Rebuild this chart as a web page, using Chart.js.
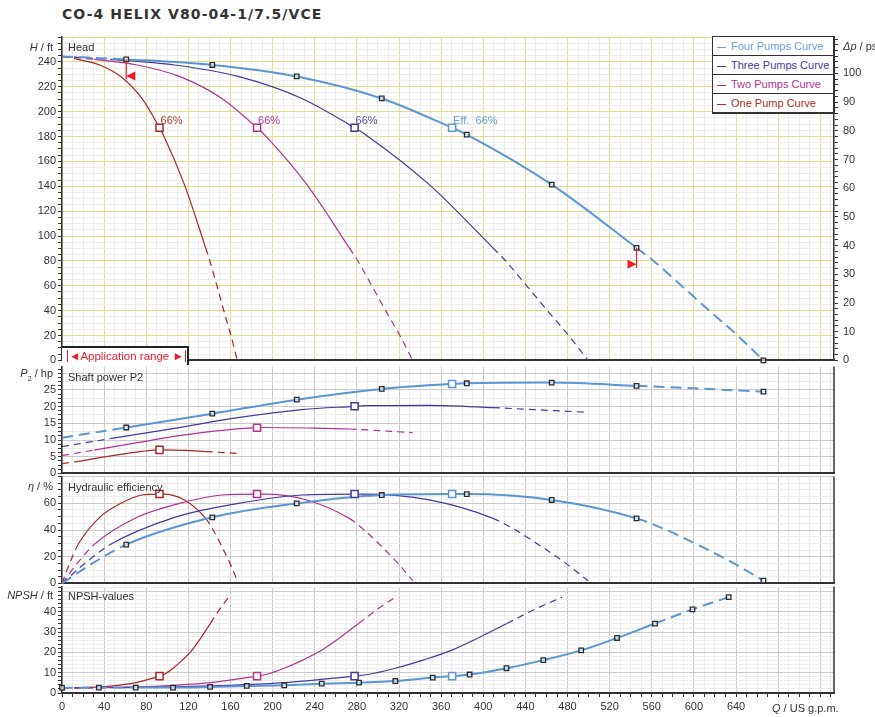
<!DOCTYPE html>
<html>
<head>
<meta charset="utf-8">
<script src="https://cdn.jsdelivr.net/npm/chart.js@4.4.1/dist/chart.umd.min.js"></script>
<style>
  body { margin: 0; background: #fff; width: 875px; height: 717px; overflow: hidden; position: relative;
         font-family: "Liberation Sans", Arial, Helvetica, sans-serif; color: #333; }
  canvas { position: absolute; left: 0; }
  .t { position: absolute; font-size: 11px; line-height: 13px; white-space: nowrap; transform: translateY(-50%); z-index: 4; }
  .r { text-align: right; width: 60px; }
  #title { position: absolute; left: 62px; top: 6px; font: bold 14px "DejaVu Sans", sans-serif; letter-spacing: 1.1px; color: #333; }
  #legend { position: absolute; left: 712px; top: 36px; width: 120px; background: #fff; z-index: 5;
            border: 1px solid #333; border-right-width: 2px; border-bottom-width: 2px; }
  .lg { height: 18px; line-height: 18px; font-size: 11px; padding-left: 4px; border-bottom: 1px solid #333; white-space: nowrap; }
  .lg:last-child { border-bottom: none; }
  .lg i { display: inline-block; width: 9px; height: 1px; vertical-align: middle; margin-right: 5px; }
  #range { position: absolute; left: 62px; top: 346px; width: 125px; height: 17px; background: #fff; z-index: 5;
           border-top: 2px solid #222; border-right: 2px solid #222; color: #e8202a; font-size: 11.5px; line-height: 17px;
           white-space: nowrap; overflow: hidden; }
  #range span { margin-left: 5px; border-left: 1px solid #e8202a; border-right: 1px solid #e8202a; padding: 0 1px; }
</style>
</head>
<body>
<div id="title">CO-4 HELIX V80-04-1/7.5/VCE</div>

<canvas id="cHead" width="875" height="372" style="top:0"></canvas>
<canvas id="cPower" width="875" height="124" style="top:358px"></canvas>
<canvas id="cEff" width="875" height="124" style="top:468px"></canvas>
<canvas id="cNpsh" width="875" height="139" style="top:578px"></canvas>

<div class="t r" style="left:-7px;top:47px"><i>H</i> / ft</div>
<div class="t" style="left:843px;top:46px"><i>Δp</i> / psi</div>
<div class="t r" style="left:-7px;top:376px"><i>P</i><sub style="font-size:7px">2</sub> / hp</div>
<div class="t r" style="left:-7px;top:486px"><i>η</i> / %</div>
<div class="t r" style="left:-7px;top:595px"><i>NPSH</i> / ft</div>
<div class="t" style="left:68px;top:47px">Head</div>
<div class="t" style="left:68px;top:377px">Shaft power P2</div>
<div class="t" style="left:68px;top:487px">Hydraulic efficiency</div>
<div class="t" style="left:68px;top:596px">NPSH-values</div>
<div class="t" style="left:772px;top:708px"><i>Q</i> / US g.p.m.</div>

<div id="legend">
  <div class="lg" style="color:#6a9fd8"><i style="background:#6a9fd8"></i>Four Pumps Curve</div>
  <div class="lg" style="color:#433a9c"><i style="background:#433a9c"></i>Three Pumps Curve</div>
  <div class="lg" style="color:#b0338f"><i style="background:#b0338f"></i>Two Pumps Curve</div>
  <div class="lg" style="color:#b02c2c"><i style="background:#b02c2c"></i>One Pump Curve</div>
</div>
<div id="range"><span>◄Application range ►</span></div>

<script>
// flow values (US gpm) for the head curves, one array per pump count
const qFour  = [0, 61, 142.7, 222.9, 303.6, 370.4, 384.3, 465, 545.5, 560.6, 590, 618.5, 641, 666];
const qThree = [0, 45.75, 107, 167.2, 227.7, 277.8, 288.2, 348.75, 409.1, 420.45, 442.5, 463.9, 480.75, 499.5];
const qTwo   = [0, 30.5, 71.35, 111.45, 151.8, 185.2, 192.15, 232.5, 272.75, 280.3, 295, 309.25, 320.5, 333];
const qOne   = [0, 15.25, 35.7, 55.7, 75.9, 92.6, 96.1, 116.25, 136.4, 140.15, 147.5, 154.6, 160.25, 166.5];
const headFt = [244.4, 242, 237.5, 228.3, 210.6, 187, 181.5, 141.3, 90.5, 80.7, 58.7, 37, 20.4, 0];

// shaft power P2 (hp)
const qPowFour  = [0, 61, 142.7, 222.9, 303.6, 370.4, 384.3, 465, 545.5, 666];
const powFour   = [10.7, 13.75, 17.9, 22.1, 25.3, 26.8, 27.0, 27.2, 26.25, 24.5];
const qPowThree = [0, 45.75, 107, 167.2, 227.7, 277.8, 288.2, 348.75, 409.1, 499.5];
const powThree  = [8.05, 10.4, 13.5, 16.7, 19.1, 20.1, 20.3, 20.4, 19.7, 18.3];
const qPowTwo   = [0, 30.5, 71.35, 111.45, 151.8, 185.2, 192.15, 232.5, 272.75, 333];
const powTwo    = [5.35, 7.0, 9.2, 11.3, 12.9, 13.7, 13.75, 13.6, 13.3, 12.2];
const qPowOne   = [0, 15.25, 35.7, 55.7, 75.9, 92.6, 96.1, 116.25, 136.4, 166.5];
const powOne    = [2.9, 3.6, 4.7, 5.7, 6.6, 7.05, 7.05, 6.9, 6.55, 6.0];

// hydraulic efficiency (%)
const qEffFour  = [0, 30, 61, 142.7, 222.9, 303.6, 370.4, 384.3, 465, 545.5, 574, 606, 638, 666];
const qEffThree = [0, 22.5, 45.75, 107, 167.2, 227.7, 277.8, 288.2, 348.75, 409.1, 430.5, 454.5, 478.5, 499.5];
const qEffTwo   = [0, 15, 30.5, 71.35, 111.45, 151.8, 185.2, 192.15, 232.5, 272.75, 287, 303, 319, 333];
const qEffOne   = [0, 7.5, 15.25, 35.7, 55.7, 75.9, 92.6, 96.1, 116.25, 136.4, 143.5, 151.5, 159.5, 166.5];
const effPct    = [0, 15.5, 29.1, 49.5, 59.9, 66.2, 66.9, 66.9, 62.5, 48.7, 40, 28, 15, 2];

// NPSH (ft)
const qNpshFour = [0, 35, 70, 105.4, 140.6, 175.4, 211, 246.6, 282, 316.5, 352, 387, 422, 457, 493, 527, 563, 598.6, 633];
const npshFour  = [2.5, 2.65, 2.65, 2.65, 3.0, 3.5, 3.8, 4.6, 5.1, 5.9, 7.6, 9.1, 12.2, 16.2, 21, 27.1, 34.2, 41.2, 47.2];
const qNpshThree = [0, 52.5, 105.45, 158.25, 211.5, 264, 290.25, 316.5, 342.75, 369.75, 395.25, 422.25, 448.95, 474.75];
const qNpshTwo   = [0, 35, 70.3, 105.5, 141, 176, 193.5, 211, 228.5, 246.5, 263.5, 281.5, 299.3, 316.5];
const qNpshOne   = [0, 17.5, 35.15, 52.75, 70.5, 88, 96.75, 105.5, 114.25, 123.25, 131.75, 140.75, 149.65, 158.25];
const npshPart   = [2.5, 2.65, 3.0, 3.8, 5.1, 7.6, 9.1, 12.2, 16.2, 21, 27.1, 34.2, 41.2, 47.2];

// duty points (66 % efficiency), order: one, two, three, four pumps
const dutyQ     = [92.6, 185.2, 277.8, 370.4];
const dutyHead  = [187, 187, 187, 187];
const dutyPower = [7.05, 13.7, 20.1, 26.8];
const dutyEff   = [66.9, 66.9, 66.9, 66.9];
const dutyNpsh  = [8.3, 8.3, 8.3, 8.3];
const dutyLabels = ['66%', '66%', '66%', 'Eff.  66%'];

// small measuring marks on the four pump curve
const markQ     = [61, 142.7, 222.9, 303.6, 384.3, 465, 545.5, 666];
const markNpshQ = qNpshFour;

// application ranges
const rangeFour = [61, 545.5], rangeThree = [45.75, 409.1], rangeTwo = [30.5, 272.75], rangeOne = [15.25, 136.4];

const X_MAX = 733;
const HEAD_MAX = 260, PSI_MAX = 112.7;

const C_FOUR = '#5b95d3', C_THREE = '#433a9c', C_TWO = '#b0338f', C_ONE = '#a82626';
const YELLOW = '#e3de8c', GREY = '#cbcbcb', MINOR = '#ececec', DARK = '#333';

Chart.defaults.font.family = '"Liberation Sans", Arial, Helvetica, sans-serif';
Chart.defaults.font.size = 11;
Chart.defaults.color = '#333';

function near(v, step) {
  const r = Math.abs(v % step);
  return r < 1e-6 || Math.abs(r - step) < 1e-6;
}

function xScale(major, labels) {
  return {
    type: 'linear', min: 0, max: X_MAX,
    ticks: {
      display: labels, stepSize: 10, autoSkip: false, includeBounds: false,
      maxRotation: 0, minRotation: 0, padding: 3,
      callback: v => (near(v, 40) && v <= 640) ? v : ''
    },
    grid: {
      color: c => near(c.tick.value, 40) ? major : MINOR,
      drawTicks: labels, tickLength: 4, tickColor: DARK
    },
    border: { display: true, color: DARK, width: 2 },
    afterFit: s => { s.height = labels ? 24 : 0; }
  };
}

function yScale(max, step, labelStep, labelMax, majorStep, major, minorStep) {
  return {
    type: 'linear', min: 0, max: max,
    ticks: {
      stepSize: step, autoSkip: false, includeBounds: false, padding: 2,
      callback: v => (near(v, labelStep) && v <= labelMax) ? v : ''
    },
    grid: {
      color: c => near(c.tick.value, majorStep) ? major : (near(c.tick.value, minorStep) ? MINOR : 'rgba(0,0,0,0)'),
      tickLength: 4, tickColor: DARK
    },
    border: { display: true, color: DARK, width: 1.5 },
    afterFit: s => { s.width = 62; }
  };
}

function curve(q, v, color, width, range, marks) {
  const dash = width > 1.5 ? [11, 6] : [7, 5];
  return {
    data: q.map((x, i) => ({ x: x, y: v[i] })),
    borderColor: color, borderWidth: width, fill: false,
    cubicInterpolationMode: 'monotone',
    pointStyle: 'rect',
    pointRadius: c => (marks && c.raw && marks.includes(c.raw.x)) ? 3.2 : 0,
    pointHoverRadius: 0,
    pointBorderColor: '#2a2a2a', pointBackgroundColor: 'rgba(255,255,255,0.6)', pointBorderWidth: 1.3,
    clip: false,
    segment: {
      borderDash: c => {
        const m = (c.p0.parsed.x + c.p1.parsed.x) / 2;
        return (m < range[0] || m > range[1]) ? dash : undefined;
      }
    }
  };
}

function duty(v) {
  return {
    data: dutyQ.map((x, i) => ({ x: x, y: v[i] })),
    showLine: false, pointStyle: 'rect', pointRadius: 5, pointHoverRadius: 0, pointBorderWidth: 1.5,
    pointBorderColor: [C_ONE, C_TWO, C_THREE, C_FOUR], pointBackgroundColor: '#fff', clip: false
  };
}

const rightFrame = {
  id: 'rightFrame',
  afterDraw(chart) {
    const a = chart.chartArea, ctx = chart.ctx;
    ctx.save();
    ctx.strokeStyle = DARK;
    ctx.lineWidth = 1.5;
    ctx.beginPath();
    ctx.moveTo(a.right, a.top);
    ctx.lineTo(a.right, a.bottom);
    ctx.stroke();
    ctx.restore();
  }
};

const headNotes = {
  id: 'headNotes',
  afterDatasetsDraw(chart) {
    const ctx = chart.ctx, x = chart.scales.x, y = chart.scales.y;
    const textColors = ['#b03a3a', '#b0338f', '#5a4aa8', '#6a9fd8'];
    ctx.save();
    ctx.font = '11px "Liberation Sans", Arial, sans-serif';
    ctx.textBaseline = 'middle';
    dutyQ.forEach((q, i) => {
      ctx.fillStyle = textColors[i];
      ctx.fillText(dutyLabels[i], x.getPixelForValue(q) + 1, y.getPixelForValue(dutyHead[i]) - 7);
    });
    // application range flags on the four pump curve
    const flags = [[qFour[1], headFt[1], 1], [qFour[8], headFt[8], -1]];
    ctx.strokeStyle = '#ee1c25';
    ctx.fillStyle = '#ee1c25';
    ctx.lineWidth = 1.2;
    flags.forEach(f => {
      const px = x.getPixelForValue(f[0]), py = y.getPixelForValue(f[1]);
      ctx.beginPath();
      ctx.moveTo(px, py);
      ctx.lineTo(px, py + 20);
      ctx.stroke();
      ctx.beginPath();
      ctx.moveTo(px, py + 16.5);
      ctx.lineTo(px + f[2] * 9, py + 12);
      ctx.lineTo(px + f[2] * 9, py + 21);
      ctx.closePath();
      ctx.fill();
    });
    ctx.restore();
  }
};

function baseOptions(pad) {
  return {
    responsive: false, animation: false,
    layout: { padding: pad },
    plugins: { legend: { display: false }, tooltip: { enabled: false } },
    events: []
  };
}

// Head
const headOpts = baseOptions({ top: 37, bottom: 7, left: 0, right: 0 });
headOpts.scales = {
  x: xScale(YELLOW, false),
  y: yScale(HEAD_MAX, 5, 20, 240, 20, YELLOW, 5),
  yPsi: {
    type: 'linear', position: 'right', min: 0, max: PSI_MAX,
    ticks: { stepSize: 2, autoSkip: false, includeBounds: false, padding: 5,
             callback: v => (near(v, 10) && v <= 100) ? v : '' },
    grid: { drawOnChartArea: false, tickLength: 4, tickColor: DARK },
    border: { display: true, color: DARK, width: 1.5 },
    afterFit: s => { s.width = 41; }
  }
};
new Chart(document.getElementById('cHead'), {
  type: 'line',
  data: { datasets: [
    duty(dutyHead),
    curve(qFour, headFt, C_FOUR, 2, rangeFour, markQ),
    curve(qThree, headFt, C_THREE, 1.2, rangeThree),
    curve(qTwo, headFt, C_TWO, 1.2, rangeTwo),
    curve(qOne, headFt, C_ONE, 1.2, rangeOne)
  ] },
  options: headOpts,
  plugins: [headNotes]
});

// Shaft power
const powOpts = baseOptions({ top: 7, bottom: 7, left: 0, right: 41 });
powOpts.scales = { x: xScale(GREY, false), y: yScale(32, 1.25, 5, 25, 5, GREY, 2.5) };
new Chart(document.getElementById('cPower'), {
  type: 'line',
  data: { datasets: [
    duty(dutyPower),
    curve(qPowFour, powFour, C_FOUR, 2, rangeFour, markQ),
    curve(qPowThree, powThree, C_THREE, 1.2, rangeThree),
    curve(qPowTwo, powTwo, C_TWO, 1.2, rangeTwo),
    curve(qPowOne, powOne, C_ONE, 1.2, rangeOne)
  ] },
  options: powOpts,
  plugins: [rightFrame]
});

// Efficiency
const effOpts = baseOptions({ top: 7, bottom: 7, left: 0, right: 41 });
effOpts.scales = { x: xScale(GREY, false), y: yScale(80, 5, 20, 60, 20, GREY, 5) };
new Chart(document.getElementById('cEff'), {
  type: 'line',
  data: { datasets: [
    duty(dutyEff),
    curve(qEffFour, effPct, C_FOUR, 2, rangeFour, markQ),
    curve(qEffThree, effPct, C_THREE, 1.2, rangeThree),
    curve(qEffTwo, effPct, C_TWO, 1.2, rangeTwo),
    curve(qEffOne, effPct, C_ONE, 1.2, rangeOne)
  ] },
  options: effOpts,
  plugins: [rightFrame]
});

// NPSH
const npshOpts = baseOptions({ top: 7, bottom: 0, left: 0, right: 41 });
npshOpts.scales = { x: xScale(GREY, true), y: yScale(52.4, 2, 10, 40, 10, GREY, 2) };
new Chart(document.getElementById('cNpsh'), {
  type: 'line',
  data: { datasets: [
    duty(dutyNpsh),
    curve(qNpshFour, npshFour, C_FOUR, 2, rangeFour, markNpshQ),
    curve(qNpshThree, npshPart, C_THREE, 1.2, rangeThree),
    curve(qNpshTwo, npshPart, C_TWO, 1.2, rangeTwo),
    curve(qNpshOne, npshPart, C_ONE, 1.2, rangeOne)
  ] },
  options: npshOpts,
  plugins: [rightFrame]
});
</script>
</body>
</html>
